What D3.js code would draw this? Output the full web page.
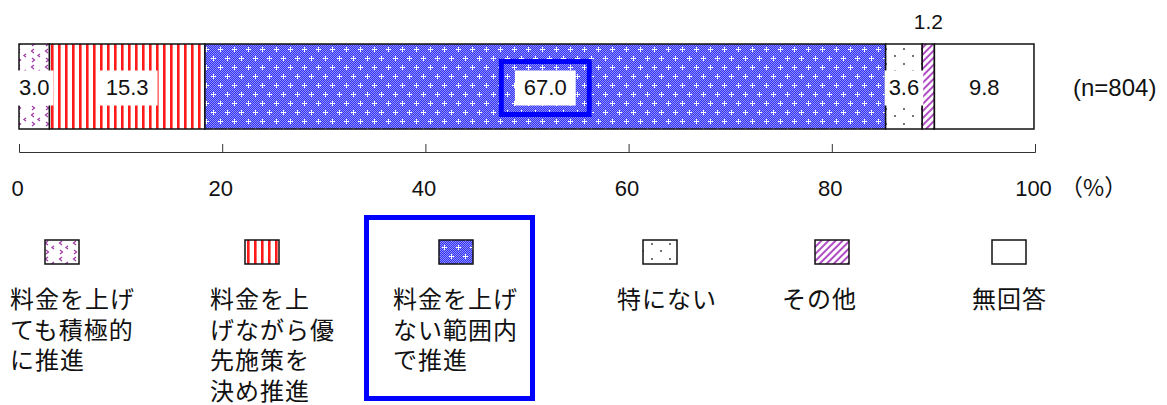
<!DOCTYPE html>
<html>
<head>
<meta charset="utf-8">
<script src="https://cdn.jsdelivr.net/npm/d3@7"></script>
<style>
  body { margin: 0; background: #fff; }
  text { font-family: "Liberation Sans", Arial, "Noto Sans CJK JP", sans-serif; fill: #111; }
  .jp { font-family: "Noto Sans CJK JP", "Liberation Sans", sans-serif; }
</style>
</head>
<body>
<svg id="chart" width="1167" height="405"></svg>
<script>
// chart data
var categories = ['料金を上げても積極的に推進', '料金を上げながら優先施策を決め推進', '料金を上げない範囲内で推進', '特にない', 'その他', '無回答'];
var values = [3.0, 15.3, 67.0, 3.6, 1.2, 9.8];
var tickValues = [0, 20, 40, 60, 80, 100];
var sampleLabel = '(n=804)';
var unitLabel = '（%）';
// legend text broken into lines like the original
var legendLines = [
    ['料金を上げ', 'ても積極的', 'に推進'],
    ['料金を上', 'げながら優', '先施策を', '決め推進'],
    ['料金を上げ', 'ない範囲内', 'で推進'],
    ['特にない'],
    ['その他'],
    ['無回答']
];
var highlightIndex = 2;

// patterns per category
var fills = ['url(#p-chev)', 'url(#p-stripe)', 'url(#p-blue)', 'url(#p-dots)', 'url(#p-hatch)', '#fff'];

var svg = d3.select('#chart');

// set the dimensions of the bar
var barTop = 44, barH = 85, axisY = 152;
var xScale = d3.scaleLinear().domain([0, 100]).range([19, 1035]);

var defs = svg.append('defs');

// small checker used under the blue pattern
var chk = defs.append('pattern').attr('id', 'p-chk')
    .attr('patternUnits', 'userSpaceOnUse').attr('width', 2).attr('height', 2);
chk.append('rect').attr('width', 2).attr('height', 2).attr('fill', '#3030f6');
chk.append('rect').attr('width', 1).attr('height', 1).attr('fill', '#9090fc');
chk.append('rect').attr('x', 1).attr('y', 1).attr('width', 1).attr('height', 1).attr('fill', '#9090fc');

var blue = defs.append('pattern').attr('id', 'p-blue')
    .attr('patternUnits', 'userSpaceOnUse').attr('width', 14).attr('height', 18);
blue.append('rect').attr('width', 14).attr('height', 18).attr('fill', 'url(#p-chk)');
[[3, 4], [10, 13]].forEach(function(c) {
    blue.append('rect').attr('x', c[0] - 2).attr('y', c[1]).attr('width', 5).attr('height', 1).attr('fill', '#fff');
    blue.append('rect').attr('x', c[0]).attr('y', c[1] - 2).attr('width', 1).attr('height', 5).attr('fill', '#fff');
});

var stripe = defs.append('pattern').attr('id', 'p-stripe')
    .attr('patternUnits', 'userSpaceOnUse').attr('width', 7).attr('height', 10);
stripe.append('rect').attr('width', 7).attr('height', 10).attr('fill', '#fff');
stripe.append('rect').attr('x', 2).attr('width', 2.6).attr('height', 10).attr('fill', '#ff1a1a');

var chev = defs.append('pattern').attr('id', 'p-chev')
    .attr('patternUnits', 'userSpaceOnUse').attr('width', 14).attr('height', 16);
chev.append('rect').attr('width', 14).attr('height', 16).attr('fill', '#fff');
chev.append('path').attr('d', 'M6,1 L3.5,3 L6,5 M12,6 L10,7.5 L12,9 M4,10 L6.5,12 L4,14')
    .attr('fill', 'none').attr('stroke', '#a03ca8').attr('stroke-width', 1.3);

var dots = defs.append('pattern').attr('id', 'p-dots')
    .attr('patternUnits', 'userSpaceOnUse').attr('width', 18).attr('height', 15);
dots.append('rect').attr('width', 18).attr('height', 15).attr('fill', '#fff');
dots.append('circle').attr('cx', 4).attr('cy', 4).attr('r', 0.9).attr('fill', '#333');
dots.append('circle').attr('cx', 13).attr('cy', 11).attr('r', 0.9).attr('fill', '#333');

var hatch = defs.append('pattern').attr('id', 'p-hatch')
    .attr('patternUnits', 'userSpaceOnUse').attr('width', 5).attr('height', 5)
    .attr('patternTransform', 'rotate(45)');
hatch.append('rect').attr('width', 5).attr('height', 5).attr('fill', '#fff');
hatch.append('rect').attr('width', 2).attr('height', 5).attr('fill', '#b04cc4');

// stacked segments
var starts = [];
values.reduce(function(acc, v) { starts.push(acc); return acc + v; }, 0);

svg.selectAll('.seg')
    .data(values)
    .enter()
    .append('rect')
    .attr('class', 'seg')
    .attr('x', function(d, i) { return xScale(starts[i]); })
    .attr('y', barTop)
    .attr('width', function(d, i) { return xScale(starts[i] + d) - xScale(starts[i]); })
    .attr('height', barH)
    .attr('fill', function(d, i) { return fills[i]; })
    .attr('stroke', '#111')
    .attr('stroke-width', 1.5);

// value labels with white boxes
var midY = barTop + barH / 2 + 1;
values.forEach(function(v, i) {
    var cx = (xScale(starts[i]) + xScale(starts[i] + v)) / 2;
    var segW = xScale(starts[i] + v) - xScale(starts[i]);
    if (segW < 20) {
        svg.append('text').attr('x', cx).attr('y', 22).attr('dy', '0.35em')
            .attr('text-anchor', 'middle').style('font-size', '21px').text(v.toFixed(1));
        return;
    }
    var g = svg.append('g');
    var box = g.append('rect');
    var t = g.append('text').attr('x', cx).attr('y', midY).attr('dy', '0.35em')
        .attr('text-anchor', 'middle').style('font-size', '22px').text(v.toFixed(1));
    var tw = t.node().getComputedTextLength();
    var bw = Math.min(tw + 18, Math.max(segW + 2, tw + 8));
    box.attr('x', cx - bw / 2).attr('y', midY - 17).attr('width', bw).attr('height', 35)
        .attr('fill', i === 5 ? 'none' : '#fff');
    if (i === highlightIndex) {
        g.append('rect').attr('x', cx - 44).attr('y', midY - 26).attr('width', 88).attr('height', 53)
            .attr('fill', 'none').attr('stroke', '#0000ff').attr('stroke-width', 5);
    }
});

svg.append('text').attr('x', 1073).attr('y', midY).attr('dy', '0.35em')
    .style('font-size', '24px').text(sampleLabel);

// axis
var xAxis = d3.axisBottom(xScale)
    .tickValues(tickValues)
    .tickSizeInner(-8)
    .tickSizeOuter(-8)
    .tickPadding(28);

var ax = svg.append('g')
    .attr('transform', 'translate(0,' + axisY + ')')
    .call(xAxis);
ax.selectAll('path, line').attr('stroke', '#333');
ax.selectAll('text').style('font-size', '22px').style('font-family', '"Liberation Sans", Arial, sans-serif')
    .attr('fill', '#111').attr('dx', -2);

svg.append('text').attr('x', 1060).attr('y', axisY + 27).attr('dy', '0.75em')
    .style('font-size', '23px').attr('class', 'jp').text(unitLabel);

// legend
var swatchX = [45, 245, 439, 643, 815, 992];
var textX = [10, 210, 393, 617, 782, 972];
var swY = 240;

svg.selectAll('.sw')
    .data(categories)
    .enter()
    .append('rect')
    .attr('class', 'sw')
    .attr('x', function(d, i) { return swatchX[i]; })
    .attr('y', swY)
    .attr('width', 34)
    .attr('height', 24)
    .attr('fill', function(d, i) { return fills[i]; })
    .attr('stroke', '#111')
    .attr('stroke-width', 1.5);

legendLines.forEach(function(lines, i) {
    var t = svg.append('text').attr('class', 'jp')
        .attr('x', textX[i]).attr('y', 308)
        .style('font-size', '24px').style('letter-spacing', '1px');
    lines.forEach(function(s, j) {
        t.append('tspan').attr('x', textX[i]).attr('y', 308 + j * 30.5).text(s);
    });
});

// highlight around the blue legend item
svg.append('rect').attr('x', 366.5).attr('y', 217.5).attr('width', 166).attr('height', 181)
    .attr('fill', 'none').attr('stroke', '#0000ff').attr('stroke-width', 5);
</script>
</body>
</html>
